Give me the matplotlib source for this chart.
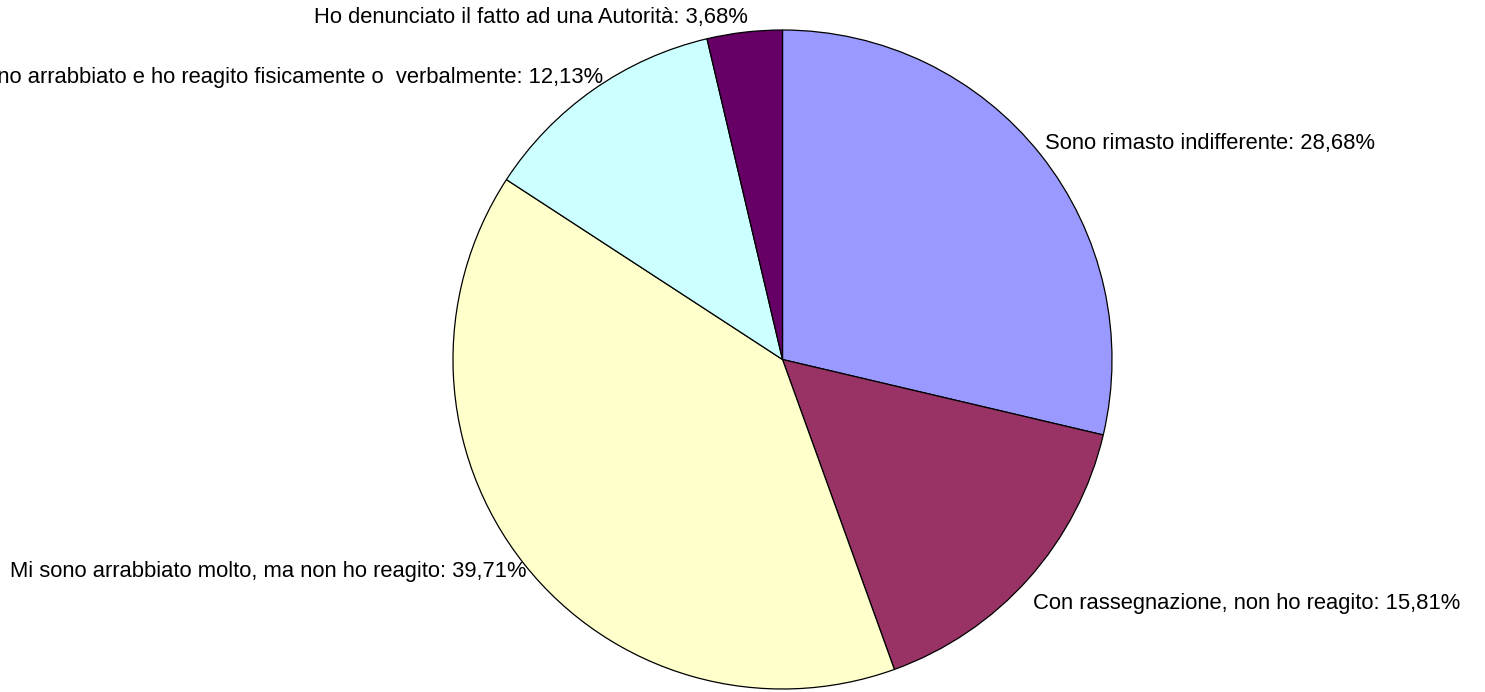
import matplotlib.pyplot as plt

plt.rcParams['font.family'] = ['Liberation Sans', 'DejaVu Sans']

# Risposte alla domanda e percentuali
labels = ['Sono rimasto indifferente',
          'Con rassegnazione, non ho reagito',
          'Mi sono arrabbiato molto, ma non ho reagito',
          'Mi sono arrabbiato e ho reagito fisicamente o  verbalmente',
          'Ho denunciato il fatto ad una Autorità']
values = [28.68, 15.81, 39.71, 12.13, 3.68]
colors = ['#9999FF', '#993366', '#FFFFCC', '#CCFFFF', '#660066']

# posizione delle etichette in pixel (x, y dall'alto) e allineamento
label_pos = [(1045, 143, 'left'),
             (1033, 603, 'left'),
             (527, 572, 'right'),
             (603, 78, 'right'),
             (531, 17, 'center')]

W, H = 1485, 692
fig = plt.figure(figsize=(W / 100, H / 100), dpi=100)

cx, cy, r = 782.5, 359.5, 329.5
ax = fig.add_axes([(cx - r) / W, (H - cy - r) / H, 2 * r / W, 2 * r / H])
ax.pie(values, colors=colors, startangle=90, counterclock=False,
       wedgeprops=dict(edgecolor='black', linewidth=0.9))
ax.set_xlim(-1, 1)
ax.set_ylim(-1, 1)
ax.axis('off')

for lab, v, (px, py, ha) in zip(labels, values, label_pos):
    txt = f'{lab}: {v:.2f}%'.replace('.', ',')
    fig.text(px / W, 1 - py / H, txt, ha=ha, va='center', fontsize=15.8,
             color='black')

fig.savefig('out.png', dpi=100)
